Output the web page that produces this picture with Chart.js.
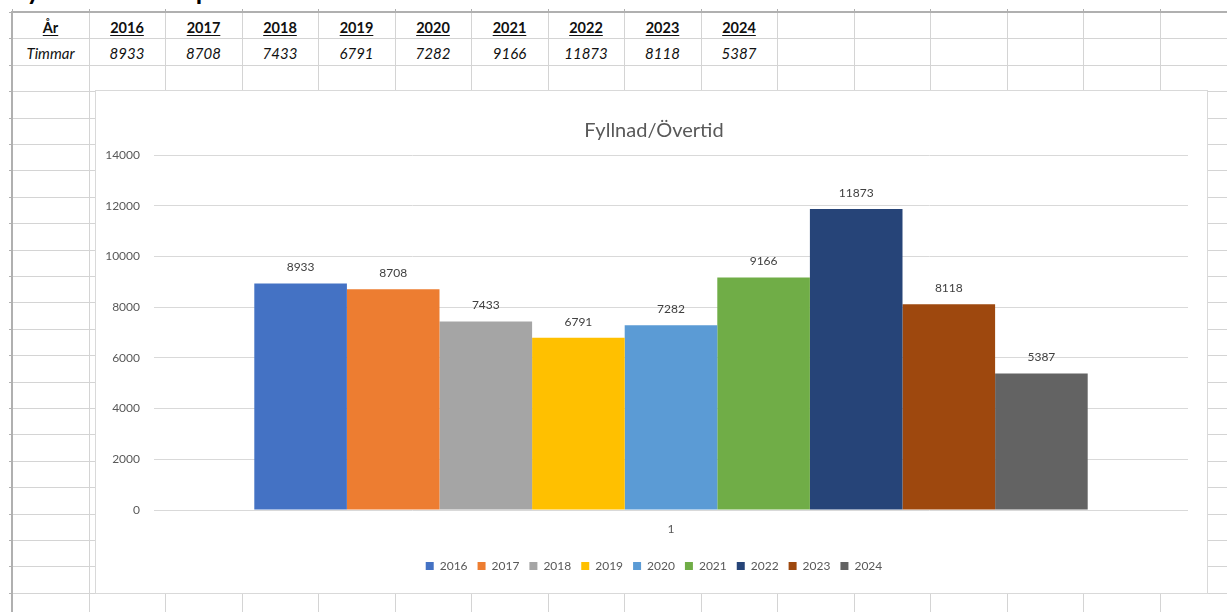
<!DOCTYPE html>
<html><head><meta charset="utf-8">
<script src="https://cdn.jsdelivr.net/npm/chart.js@4.4.1/dist/chart.umd.min.js"></script>
<style>
html,body{margin:0;padding:0;background:#fff;width:1227px;height:612px;overflow:hidden;position:relative;font-family:Lato,'Open Sans',sans-serif;}
.gl{position:absolute;background:#d4d4d4;}
.dk{position:absolute;background:#b0b0b0;}
.cell{position:absolute;text-align:center;color:#111;height:26px;line-height:29px;white-space:nowrap;}
.hd{font-weight:bold;font-size:14.5px;text-decoration:underline;text-underline-offset:2px;}
.it{font-style:italic;font-size:15px;}
#heading{position:absolute;left:12px;top:-23px;font-size:26px;line-height:26px;font-weight:bold;color:#000;white-space:nowrap;}
#box{position:absolute;left:95px;top:90px;width:1111px;height:502px;background:#fff;border:1px solid #d9d9d9;}
#c{position:absolute;left:0;top:0;}
</style></head><body>
<div id="heading">Fyllnad<span style="position:relative;top:-4px">/</span>övertid per år</div>
<div id="grid"></div>
<div id="table"></div>
<div id="box"><canvas id="c" width="1111" height="502"></canvas></div>
<script>
// ---- data ----
const years = ['2016','2017','2018','2019','2020','2021','2022','2023','2024'];
const hours = [8933, 8708, 7433, 6791, 7282, 9166, 11873, 8118, 5387];
const categories = ['1'];
const colors = ['#4472C4','#ED7D31','#A5A5A5','#FFC000','#5B9BD5','#70AD47','#264478','#9E480E','#636363'];
const yMin = 0, yMax = 14000, yStep = 2000;
const chartTitle = 'Fyllnad/Övertid';
const headerLabel = 'År';
const rowLabel = 'Timmar';

// ---- spreadsheet grid ----
const grid = document.getElementById('grid');
const colX = []; for (let k = 0; k < 16; k++) colX.push(Math.round(12 + 76.53 * k));
const rowY = []; for (let k = 0; k < 24; k++) rowY.push(Math.round(12 + 26.4 * k));
function line(cls, l, t, w, h) { const d = document.createElement('div'); d.className = cls; d.style.cssText = `left:${l}px;top:${t}px;width:${w}px;height:${h}px`; grid.appendChild(d); }
colX.forEach((x, i) => { if (i > 0) line('gl', x, 12, 1, 600); line('dk', x, 9, 1, 3); });
rowY.forEach((y, i) => { if (i > 0) line('gl', 12, y, 1215, 1); line('dk', 9, y, 3, 1); });
line('dk', 11, 12, 2, 600);
line('dk', 11, 11, 1216, 2);

// ---- table ----
const table = document.getElementById('table');
function cell(text, ci, ri, cls) {
  const d = document.createElement('div'); d.className = 'cell';
  d.style.left = colX[ci] + 'px'; d.style.width = (colX[ci + 1] - colX[ci]) + 'px'; d.style.top = rowY[ri] + 'px';
  const s = document.createElement('span'); s.className = cls; s.textContent = text; d.appendChild(s); table.appendChild(d);
}
cell(headerLabel, 0, 0, 'hd'); cell(rowLabel, 0, 1, 'it');
years.forEach((y, i) => { cell(y, i + 1, 0, 'hd'); cell(String(hours[i]), i + 1, 1, 'it'); });

// ---- chart ----
Chart.defaults.font.family = 'Lato';
const mctx = document.createElement('canvas').getContext('2d');
mctx.font = '12px Lato';
const widestTick = mctx.measureText(String(yMax)).width;

const valueLabels = {
  id: 'valueLabels',
  afterDatasetsDraw(chart) {
    const ctx = chart.ctx; ctx.save();
    ctx.font = '12px Lato'; ctx.fillStyle = '#404040'; ctx.textAlign = 'center'; ctx.textBaseline = 'middle';
    chart.data.datasets.forEach((ds, i) => {
      chart.getDatasetMeta(i).data.forEach((bar, j) => ctx.fillText(String(ds.data[j]), bar.x, bar.y - 16));
    });
    ctx.restore();
  }
};
new Chart(document.getElementById('c'), {
  type: 'bar',
  data: {
    labels: categories,
    datasets: years.map((y, i) => ({ label: y, data: [hours[i]], backgroundColor: colors[i], borderWidth: 0, categoryPercentage: 0.806, barPercentage: 1 }))
  },
  options: {
    responsive: false, animation: false, devicePixelRatio: 1,
    layout: { padding: { left: 24, right: 19, top: 0, bottom: 11 } },
    plugins: {
      title: { display: true, text: chartTitle, color: '#595959', font: { family: 'Lato', size: 20, weight: 'normal' }, padding: { top: 28, bottom: 12 } },
      legend: { position: 'bottom', labels: { boxWidth: 8, boxHeight: 8, padding: 10, color: '#595959', font: { family: 'Lato', size: 12 } } },
      tooltip: { enabled: false }
    },
    scales: {
      x: { grid: { display: false, drawTicks: false }, border: { display: false }, ticks: { color: '#595959', font: { size: 12 }, padding: 12 }, afterFit(s) { s.height = 40; } },
      y: { min: yMin, max: yMax,
           ticks: { stepSize: yStep, color: '#595959', mirror: true, crossAlign: 'far', padding: -14 - widestTick, font: { size: 12 }, callback: v => String(v) },
           grid: { color: '#d9d9d9', drawTicks: false }, border: { display: false }, afterFit(s) { s.width = 34; } }
    }
  },
  plugins: [valueLabels]
});
</script>
</body></html>
